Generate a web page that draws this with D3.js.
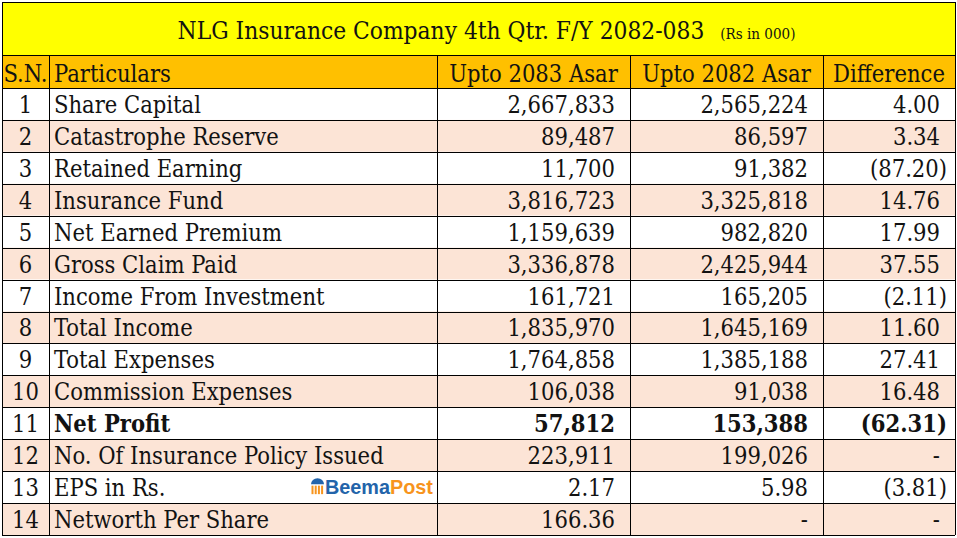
<!DOCTYPE html>
<html>
<head>
<meta charset="utf-8">
<script src="https://cdn.jsdelivr.net/npm/d3@7"></script>
<style>
  html, body { margin: 0; padding: 0; background: #ffffff; }
  svg { display: block; }
</style>
</head>
<body>
<svg id="chart" width="957" height="538"></svg>
<script>
// ---------------- DATA ----------------
const titleText = "NLG Insurance Company 4th Qtr. F/Y 2082-083";
const unitText = "(Rs in 000)";
const headers = ["S.N.", "Particulars", "Upto 2083 Asar", "Upto 2082 Asar", "Difference"];
const serialNumbers = [1, 2, 3, 4, 5, 6, 7, 8, 9, 10, 11, 12, 13, 14];
const particulars = [
  "Share Capital",
  "Catastrophe Reserve",
  "Retained Earning",
  "Insurance Fund",
  "Net Earned Premium",
  "Gross Claim Paid",
  "Income From Investment",
  "Total Income",
  "Total Expenses",
  "Commission Expenses",
  "Net Profit",
  "No. Of Insurance Policy Issued",
  "EPS in Rs.",
  "Networth Per Share"
];
const upto2083 = [2667833, 89487, 11700, 3816723, 1159639, 3336878, 161721, 1835970, 1764858, 106038, 57812, 223911, 2.17, 166.36];
const upto2082 = [2565224, 86597, 91382, 3325818, 982820, 2425944, 165205, 1645169, 1385188, 91038, 153388, 199026, 5.98, null];
const difference = [4.00, 3.34, -87.20, 14.76, 17.99, 37.55, -2.11, 11.60, 27.41, 16.48, -62.31, null, -3.81, null];
const boldRows = ["Net Profit"];

// ---------------- LAYOUT ----------------
const svg = d3.select("#chart");
const W = 957, H = 538;
const tableLeft = 2, tableRight = 955;
const titleTop = 2, titleBottom = 55, headerBottom = 88, tableBottom = 535;
const colEdges = [tableLeft, 49, 437, 630, 823, tableRight];

const fontFamily = "'DejaVu Serif Condensed', 'DejaVu Serif', serif";
const textColor = "#121212";
const yellow = "#FFFF00", orange = "#FFC000", peach = "#FCE4D6";

const y = d3.scaleBand()
  .domain(serialNumbers)
  .range([headerBottom, tableBottom])
  .paddingInner(0).paddingOuter(0);

// font-size fitting helper: scale a reference string to a target pixel width
function fitSize(str, targetWidth, weight) {
  const t = svg.append("text").attr("font-family", fontFamily)
    .attr("font-size", 100).attr("font-weight", weight || "normal").text(str);
  const w = t.node().getComputedTextLength();
  t.remove();
  return 100 * targetWidth / w;
}
const bodySize = fitSize("Share Capital", 147);
const titleSize = fitSize(titleText, 527);

// ---------------- BACKGROUNDS ----------------
svg.append("rect").attr("x", tableLeft).attr("y", titleTop)
  .attr("width", tableRight - tableLeft).attr("height", titleBottom - titleTop)
  .attr("fill", yellow);
svg.append("rect").attr("x", tableLeft).attr("y", titleBottom)
  .attr("width", tableRight - tableLeft).attr("height", headerBottom - titleBottom)
  .attr("fill", orange);
svg.append("g").selectAll("rect").data(serialNumbers).join("rect")
  .attr("x", tableLeft).attr("y", d => y(d))
  .attr("width", tableRight - tableLeft).attr("height", y.bandwidth())
  .attr("fill", d => d % 2 === 0 ? peach : "#ffffff");

// ---------------- TITLE ----------------
const title = svg.append("text")
  .attr("y", 38.5)
  .attr("font-family", fontFamily)
  .attr("fill", textColor)
  .attr("font-size", titleSize);
title.append("tspan").text(titleText);
title.append("tspan").attr("dx", 16).attr("font-size", titleSize * 0.62).text(unitText);
const tw = title.node().getComputedTextLength();
title.attr("x", (tableLeft + tableRight) / 2 - tw / 2);

// ---------------- HEADER ----------------
const headerG = svg.append("g");
headers.forEach((h, i) => {
  const t = headerG.append("text")
    .attr("y", headerBottom - 6.5)
    .attr("font-family", fontFamily)
    .attr("font-size", bodySize)
    .attr("fill", textColor)
    .text(h);
  if (i === 1) {
    t.attr("x", colEdges[1] + 5).attr("text-anchor", "start");
  } else {
    t.attr("x", (colEdges[i] + colEdges[i + 1]) / 2).attr("text-anchor", "middle");
  }
});

// ---------------- BODY ----------------
const fmtInt = d3.format(",");
const fmtDec = d3.format(",.2f");
function fmtAmount(v) {
  if (v === null || v === undefined) return "-";
  const a = Math.abs(v);
  const s = Number.isInteger(a) ? fmtInt(a) : fmtDec(a);
  return v < 0 ? "(" + s + ")" : s;
}
function fmtDiff(v) {
  if (v === null || v === undefined) return "-";
  const s = fmtDec(Math.abs(v));
  return v < 0 ? "(" + s + ")" : s;
}

const rows = serialNumbers.map((sn, i) => ({
  sn, name: particulars[i], a: upto2083[i], b: upto2082[i], d: difference[i],
  bold: boldRows.includes(particulars[i])
}));

const body = svg.append("g");
const rowG = body.selectAll("g.row").data(rows).join("g").attr("class", "row")
  .attr("font-family", fontFamily)
  .attr("font-size", bodySize)
  .attr("fill", textColor)
  .attr("font-weight", d => d.bold ? "bold" : "normal");

const baseOff = () => y.bandwidth() - 7;

rowG.append("text")
  .attr("x", (colEdges[0] + colEdges[1]) / 2)
  .attr("y", d => y(d.sn) + baseOff())
  .attr("text-anchor", "middle")
  .attr("font-weight", "normal")
  .text(d => d.sn);

rowG.append("text")
  .attr("x", colEdges[1] + 5)
  .attr("y", d => y(d.sn) + baseOff())
  .text(d => d.name);

function valueX(edgeRight, v) {
  if (v !== null && v < 0) return edgeRight - 8;
  return edgeRight - 15;
}
rowG.append("text")
  .attr("x", d => valueX(colEdges[3], d.a))
  .attr("y", d => y(d.sn) + baseOff())
  .attr("text-anchor", "end")
  .text(d => fmtAmount(d.a));
rowG.append("text")
  .attr("x", d => valueX(colEdges[4], d.b))
  .attr("y", d => y(d.sn) + baseOff())
  .attr("text-anchor", "end")
  .text(d => fmtAmount(d.b));
rowG.append("text")
  .attr("x", d => valueX(colEdges[5], d.d))
  .attr("y", d => y(d.sn) + baseOff())
  .attr("text-anchor", "end")
  .text(d => fmtDiff(d.d));

// ---------------- GRID LINES ----------------
const grid = svg.append("g").attr("stroke", "#000").attr("stroke-width", 1.3)
  .attr("shape-rendering", "crispEdges");
// horizontal
const hLines = [titleTop, titleBottom, headerBottom].concat(serialNumbers.map(d => y(d) + y.bandwidth()));
grid.selectAll("line.h").data(hLines).join("line").attr("class", "h")
  .attr("x1", tableLeft).attr("x2", tableRight)
  .attr("y1", d => Math.round(d) + 0.5).attr("y2", d => Math.round(d) + 0.5);
// outer verticals
[tableLeft, tableRight].forEach(x => {
  grid.append("line").attr("x1", x + 0.5).attr("x2", x + 0.5)
    .attr("y1", titleTop).attr("y2", tableBottom);
});
// inner verticals (below title)
colEdges.slice(1, -1).forEach(x => {
  grid.append("line").attr("x1", x + 0.5).attr("x2", x + 0.5)
    .attr("y1", titleBottom).attr("y2", tableBottom);
});

// ---------------- LOGO (BeemaPost watermark) ----------------
const logoRow = 13;
const logoBase = y(logoRow) + y.bandwidth() - 9;
const logo = svg.append("g");
const iconX = 311, iconTop = y(logoRow) + 7, iconW = 13, iconH = 16;
logo.append("path")
  .attr("d", `M${iconX},${iconTop + 6} A${iconW / 2},${6} 0 0 1 ${iconX + iconW},${iconTop + 6} Z`)
  .attr("fill", "#2364AA");
[0, 1, 2, 3].forEach(k => {
  logo.append("rect")
    .attr("x", iconX + 0.5 + k * 3.2).attr("y", iconTop + 7.5)
    .attr("width", 2).attr("height", iconH - 7.5)
    .attr("fill", "#F7941D");
});
const logoFont = "'Liberation Sans', Arial, sans-serif";
const lt = logo.append("text")
  .attr("x", 325).attr("y", logoBase)
  .attr("font-family", logoFont).attr("font-weight", "bold");
lt.append("tspan").attr("fill", "#2364AA").text("Beema");
lt.append("tspan").attr("fill", "#F7941D").text("Post");
lt.attr("font-size", 100);
const lw = lt.node().getComputedTextLength();
lt.attr("font-size", 100 * 108 / lw);
</script>
</body>
</html>
